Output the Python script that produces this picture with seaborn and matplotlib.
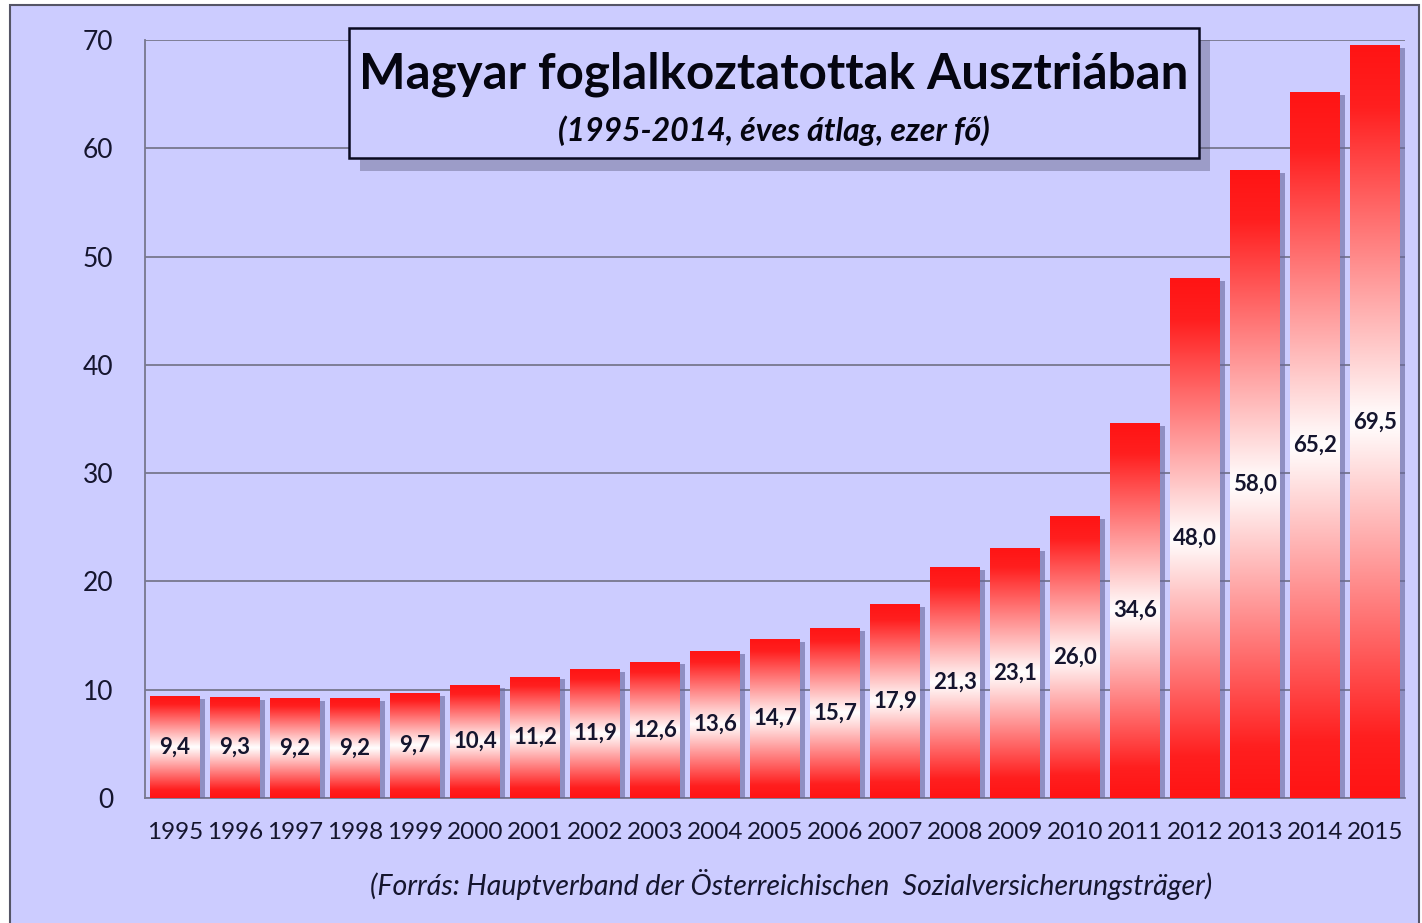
import numpy as np
import matplotlib
matplotlib.use("Agg")
import matplotlib.pyplot as plt
import matplotlib.patheffects as pe
from matplotlib.colors import LinearSegmentedColormap
from matplotlib.patches import Rectangle
import seaborn as sns

# Data
years = [str(y) for y in range(1995, 2016)]
values = [9.4, 9.3, 9.2, 9.2, 9.7, 10.4, 11.2, 11.9, 12.6, 13.6, 14.7,
          15.7, 17.9, 21.3, 23.1, 26.0, 34.6, 48.0, 58.0, 65.2, 69.5]
labels = [f"{v:.1f}".replace(".", ",") for v in values]
y_ticks = [0, 10, 20, 30, 40, 50, 60, 70]

title = "Magyar foglalkoztatottak Ausztriában"
subtitle = "(1995-2014, éves átlag, ezer fő)"
source = "(Forrás: Hauptverband der Österreichischen  Sozialversicherungsträger)"

bg = "#CCCCFF"
grid_col = "#77778e"
text_col = "#15152e"

sns.set_style("white")
plt.rcParams["font.family"] = ["Lato", "DejaVu Sans"]

fig = plt.figure(figsize=(14.22, 9.23), dpi=100)
fig.patch.set_facecolor("white")

# lavender panel with dark frame
frame = Rectangle((10 / 1422, -0.01), 1409 / 1422, 1 - 5 / 923 + 0.01,
                  transform=fig.transFigure, facecolor=bg, edgecolor="#555566",
                  linewidth=1.5, zorder=-5)
fig.patches.append(frame)

ax = fig.add_axes([145 / 1422, 1 - 798 / 923, 1260 / 1422, 758 / 923])
ax.set_facecolor("none")

sns.barplot(x=years, y=values, color="#ff2020", width=0.82, ax=ax,
            saturation=1, zorder=3)

# red-white-red gradient inside each bar, with a soft shadow
cmap = LinearSegmentedColormap.from_list(
    "rw", [(0, "#ff1414"), (0.08, "#ff1f1f"), (0.5, "#ffffff"),
           (0.92, "#ff1f1f"), (1, "#ff1414")])
grad = np.linspace(0, 1, 256).reshape(-1, 1)
for bar in ax.patches:
    bar.set_edgecolor("none")
    bar.set_path_effects([pe.SimplePatchShadow(offset=(4, -2), shadow_rgbFace="#66669a",
                                               alpha=0.6), pe.Normal()])
    x0, w, h = bar.get_x(), bar.get_width(), bar.get_height()
    im = ax.imshow(grad, cmap=cmap, extent=[x0, x0 + w, 0, h], aspect="auto",
                   origin="lower", zorder=4, interpolation="bicubic")
    im.set_clip_path(bar)

for i, (v, lab) in enumerate(zip(values, labels)):
    ax.text(i, v / 2, lab, ha="center", va="center", fontsize=16,
            fontweight="bold", color=text_col, zorder=5)

ax.set_xlim(-0.5, len(years) - 0.5)
ax.set_ylim(0, 70)
ax.set_yticks(y_ticks)
ax.set_yticklabels([str(t) for t in y_ticks], fontsize=19, color=text_col)
ax.yaxis.grid(True, color=grid_col, linewidth=1.3, zorder=1)
ax.set_axisbelow(True)

ax.set_xticks(range(len(years)))
ax.set_xticklabels(years, fontsize=17.5, color=text_col)
ax.set_xticks(np.arange(-0.5, len(years)), minor=True)
ax.tick_params(axis="x", which="major", length=0, pad=17)
ax.tick_params(axis="x", which="minor", length=7, width=1.3, color=grid_col)
ax.tick_params(axis="y", length=9, width=1.3, color=grid_col, pad=14)
ax.set_xlabel("")
ax.set_ylabel("")

for s in ["top", "right"]:
    ax.spines[s].set_visible(False)
for s in ["left", "bottom"]:
    ax.spines[s].set_color(grid_col)
    ax.spines[s].set_linewidth(1.3)

# title box
box = Rectangle((349 / 1422, 1 - 158 / 923), 850 / 1422, 130 / 923,
                transform=fig.transFigure, facecolor=bg, edgecolor="#0a0a20",
                linewidth=1.8, zorder=10)
box.set_path_effects([pe.SimplePatchShadow(offset=(8, -9), shadow_rgbFace="#555577",
                                           alpha=0.4), pe.Normal()])
fig.patches.append(box)
fig.text(774 / 1422, 1 - 74 / 923, title, ha="center", va="center",
         fontsize=35.5, fontweight="bold", color="#050510", zorder=11)
fig.text(774 / 1422, 1 - 131 / 923, subtitle, ha="center", va="center",
         fontsize=23, fontweight="bold", fontstyle="italic", color="#050510", zorder=11)

fig.text(791 / 1422, 1 - 885 / 923, source, ha="center", va="center",
         fontsize=20.5, fontstyle="italic", color=text_col)

fig.savefig("out.png", dpi=100)
